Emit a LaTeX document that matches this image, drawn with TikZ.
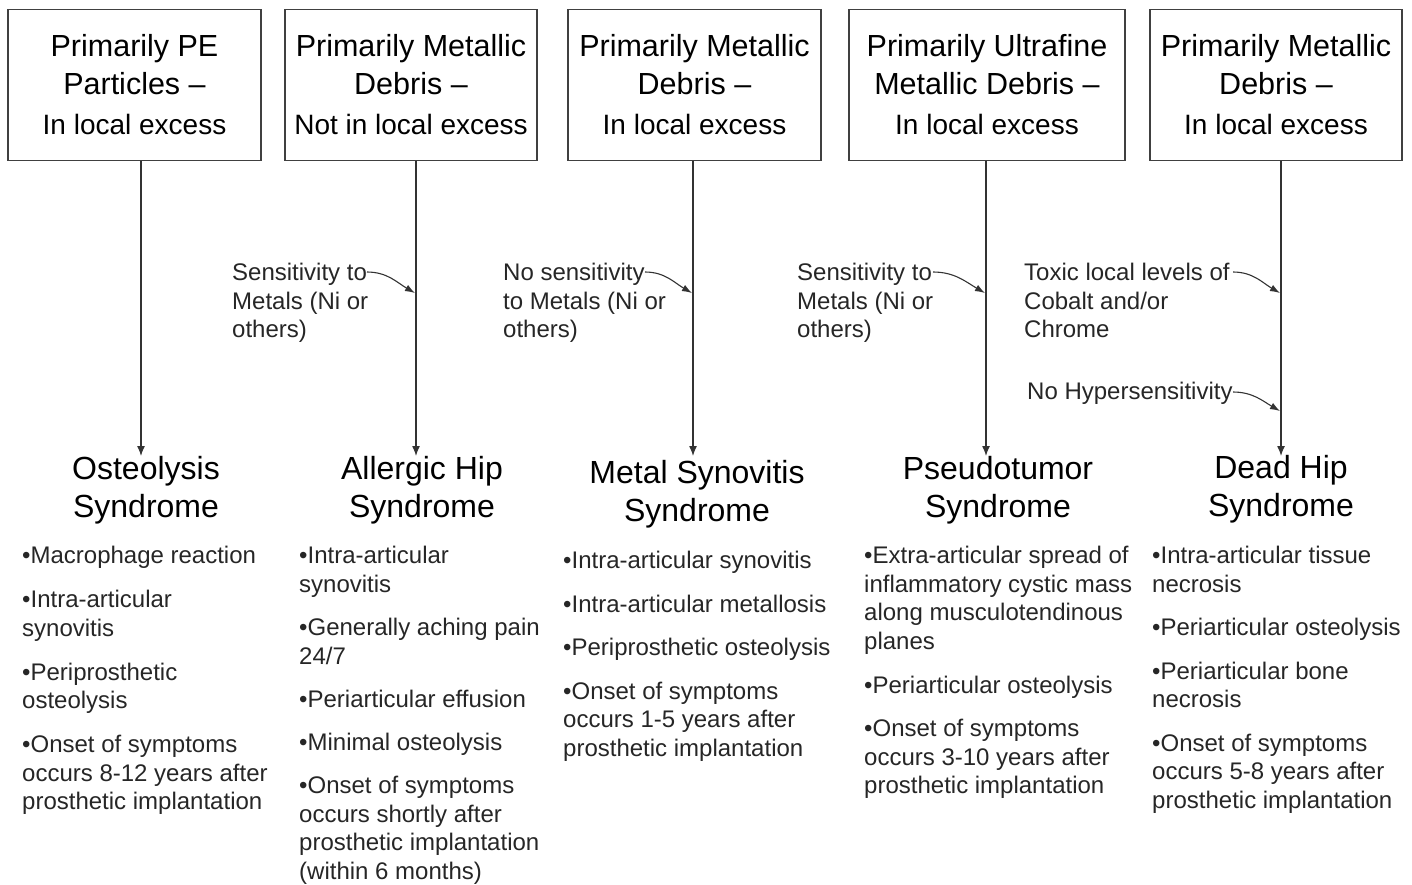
\documentclass[tikz,border=0pt]{standalone}
\usepackage{fontspec}
\setmainfont{Liberation Sans}
\usetikzlibrary{arrows.meta}
\begin{document}
\begin{tikzpicture}[x=1pt,y=-1pt,
  topbox/.style={draw=black!75, line width=1.2pt, inner sep=0pt, align=center,
    font=\fontsize{30.5}{38}\selectfont},
  synd/.style={inner sep=0pt, align=center, font=\fontsize{32}{38}\selectfont},
  blist/.style={inner sep=0pt, anchor=north west, align=left,
    font=\fontsize{24}{28.5}\selectfont, text=black!85},
  note/.style={inner sep=0pt, anchor=north west, align=left,
    font=\fontsize{24}{28.5}\selectfont, text=black!85},
  arr/.style={draw=black!80, line width=1.3pt, -{Latex[length=10pt,width=8pt]}},
  carr/.style={draw=black!80, line width=1.1pt, -{Latex[length=10pt,width=7pt]}},
]
\useasboundingbox (0,0) rectangle (1412,884);
\newcommand{\thirdline}[1]{\\[2pt]{\fontsize{28}{38}\selectfont #1}}

% top boxes
\node[topbox, minimum width=253pt, minimum height=151pt] (b1) at (134.5,85)
  {Primarily PE\\Particles --\thirdline{In local excess}};
\node[topbox, minimum width=252pt, minimum height=151pt] (b2) at (411,85)
  {Primarily Metallic\\Debris --\thirdline{Not in local excess}};
\node[topbox, minimum width=253pt, minimum height=151pt] (b3) at (694.5,85)
  {Primarily Metallic\\Debris --\thirdline{In local excess}};
\node[topbox, minimum width=276pt, minimum height=151pt] (b4) at (987,85)
  {Primarily Ultrafine\\Metallic Debris --\thirdline{In local excess}};
\node[topbox, minimum width=252pt, minimum height=151pt] (b5) at (1276,85)
  {Primarily Metallic\\Debris --\thirdline{In local excess}};

% syndrome titles
\node[synd] (s1) at (146,490) {Osteolysis\\Syndrome};
\node[synd] (s2) at (422,490) {Allergic Hip\\Syndrome};
\node[synd] (s3) at (697,494) {Metal Synovitis\\Syndrome};
\node[synd] (s4) at (998,490) {Pseudotumor\\Syndrome};
\node[synd] (s5) at (1281,489) {Dead Hip\\Syndrome};

% vertical arrows
\coordinate (e1) at (141,456);
\coordinate (e2) at (416,456);
\coordinate (e3) at (693,456);
\coordinate (e4) at (986,456);
\coordinate (e5) at (1281,456);
\foreach \i in {1,...,5} {\draw[arr] (b\i.south -| e\i) -- (e\i);}

% annotations
\node[note] (n2) at (232,263) {Sensitivity to\\Metals (Ni or\\others)};
\node[note] (n3) at (503,263) {No sensitivity\\to Metals (Ni or\\others)};
\node[note] (n4) at (797,263) {Sensitivity to\\Metals (Ni or\\others)};
\node[note] (n5) at (1024,263) {Toxic local levels of\\Cobalt and/or\\Chrome};
\node[note] (n6) at (1027,382) {No Hypersensitivity};

\coordinate (a2) at (367,272); \coordinate (k2) at (415,293);
\coordinate (a3) at (645,272); \coordinate (k3) at (692,293);
\coordinate (a4) at (933,272); \coordinate (k4) at (985,293);
\coordinate (a5) at (1233,272); \coordinate (k5) at (1280,293);
\coordinate (a6) at (1233,392); \coordinate (k6) at (1280,411);
\foreach \i in {2,...,6} {\draw[carr] (a\i) to[out=0,in=150] (k\i);}

% bullet lists
\node[blist] (l1) at (22,546)
  {•Macrophage reaction\\[15.5pt]
   •Intra-articular\\synovitis\\[15.5pt]
   •Periprosthetic\\osteolysis\\[15.5pt]
   •Onset of symptoms\\occurs 8-12 years after\\prosthetic implantation};
\node[blist] (l2) at (299,546)
  {•Intra-articular\\synovitis\\[15pt]
   •Generally aching pain\\24/7\\[15pt]
   •Periarticular effusion\\[14.5pt]
   •Minimal osteolysis\\[14.5pt]
   •Onset of symptoms\\occurs shortly after\\prosthetic implantation\\(within 6 months)};
\node[blist] (l3) at (563,551)
  {•Intra-articular synovitis\\[15pt]
   •Intra-articular metallosis\\[15pt]
   •Periprosthetic osteolysis\\[15pt]
   •Onset of symptoms\\occurs 1-5 years after\\prosthetic implantation};
\node[blist] (l4) at (864,546)
  {•Extra-articular spread of\\inflammatory cystic mass\\along musculotendinous\\planes\\[15.5pt]
   •Periarticular osteolysis\\[15pt]
   •Onset of symptoms\\occurs 3-10 years after\\prosthetic implantation};
\node[blist] (l5) at (1152,546)
  {•Intra-articular tissue\\necrosis\\[15pt]
   •Periarticular osteolysis\\[15pt]
   •Periarticular bone\\necrosis\\[15pt]
   •Onset of symptoms\\occurs 5-8 years after\\prosthetic implantation};
\end{tikzpicture}
\end{document}
